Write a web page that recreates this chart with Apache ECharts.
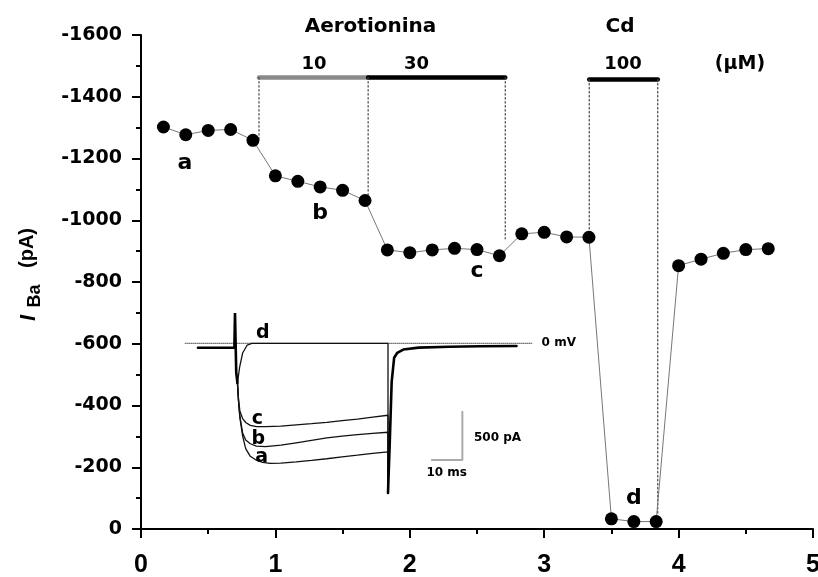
<!DOCTYPE html>
<html><head><meta charset="utf-8">
<script src="https://cdn.jsdelivr.net/npm/echarts@6/dist/echarts.min.js"></script>
<style>html,body{margin:0;padding:0;background:#fff}#c{width:818px;height:577px}</style>
</head><body><div id="c"></div>
<script>
// ---------- main time course ----------
const timeX = [0.167,0.333,0.5,0.667,0.833,1.0,1.167,1.333,1.5,1.667,1.833,2.0,2.167,2.333,
               2.5,2.667,2.833,3.0,3.167,3.333,3.5,3.667,3.833,4.0,4.167,4.333,4.5,4.667];
const currentIBa = [-1302,-1277,-1291,-1294,-1259,-1144,-1126,-1108,-1097,-1064,-904,-895,-904,-909,
                    -905,-885,-956,-961,-946,-945,-33,-24,-24,-853,-874,-893,-905,-908];
const xTicks = {min:0, max:5, step:1};
const yTicks = {min:-1600, max:0, step:200};

// treatment bars: [start, end, level]
const barAero10 = [0.878, 1.69, -1462];
const barAero30 = [1.69, 2.71, -1462];
const barCd100  = [3.335, 3.845, -1456];
// dotted drop lines: [x, from, to]
const dropLines = [[0.878,-1462,-1262],[1.69,-1462,-1072],[2.71,-1462,-940],[3.335,-1456,-968],[3.845,-1456,-50]];
// point labels: [x, y, text]
const pointLabels = [[0.327,-1185,'a'],[1.332,-1023,'b'],[2.5,-836,'c'],[3.668,-100,'d']];

// ---------- inset current traces (time ms, current pA) ----------
const holdTrace = [[-12.1,-46],[-0.2,-46],[0,314],[0.4,-300],[0.8,-411]];
const traceD = [[0.8,-411],[1.5,-250],[2.5,-100],[4,-18],[5.5,0],[50,0],[50,-1549]];
const traceC = [[0.8,-411],[1.2,-600],[1.6,-700],[2.5,-780],[3.5,-820],[5,-850],[7,-862],[10,-862],[15,-858],
                [20,-845],[25,-832],[30,-818],[35,-800],[40,-785],[45,-765],[50,-745],[50,-1549]];
const traceB = [[0.8,-411],[1.2,-620],[1.6,-760],[2.5,-930],[3.5,-1000],[5,-1040],[7,-1065],[10,-1070],[15,-1055],
                [20,-1030],[25,-1005],[30,-980],[35,-960],[40,-945],[45,-932],[50,-921],[50,-1549]];
const traceA = [[0.8,-411],[1.2,-620],[1.6,-770],[2.5,-960],[3.5,-1090],[5,-1170],[7,-1210],[9,-1232],[11.5,-1242],
                [15,-1240],[20,-1228],[25,-1212],[30,-1195],[35,-1175],[40,-1158],[45,-1140],[50,-1125],[50,-1549]];
const tailTrace = [[50,-1549],[50.6,-1000],[51.2,-400],[52,-150],[53,-100],[55,-65],[60,-45],[70,-35],[80,-30],[92,-28]];
const zeroLine = [[-16.3,0],[97,0]];
const scaleBar = {t:64.3, i:-1208, ms:10, pA:500};
const insetLabels = [[9.1,110,'d'],[7.3,-780,'c'],[7.6,-990,'b'],[8.7,-1174,'a']];
const insetTexts = [[100.2,0,'0 mV','left'],[85.8,-980,'500 pA','center'],[69.2,-1337,'10 ms','center']];

const chart = echarts.init(document.getElementById('c'), null, {renderer:'canvas'});
const BOLD = 'bold';
const dj = 'DejaVu Sans';

function seg(data, color, width, type, xi, yi, z) {
  return {type:'line', data:data, xAxisIndex:xi||0, yAxisIndex:yi||0, symbol:'none', silent:true, animation:false,
    lineStyle:{color:color, width:width, type:type||'solid', cap:'round'}, z:z||2, clip:false};
}
function labelSeries(items, size, xi, yi) {
  return {type:'scatter', xAxisIndex:xi||0, yAxisIndex:yi||0, symbolSize:0, silent:true, animation:false, z:5,
    itemStyle:{color:'#000', opacity:1},
    data: items.map(d=>({value:[d[0],d[1]], name:d[2], label:{align:d[3]||'center'}})),
    label:{show:true, position:[0,0], align:'center', verticalAlign:'middle', formatter:p=>p.name, color:'#000',
      opacity:1, textBorderWidth:0, fontFamily:dj, fontWeight:BOLD, fontSize:size}};
}

const series = [];
// inset
series.push(seg(zeroLine, '#555', 1, 'dotted', 1, 1));
series.push(seg(traceA, '#111', 1.3, 'solid', 1, 1));
series.push(seg(traceB, '#111', 1.3, 'solid', 1, 1));
series.push(seg(traceC, '#111', 1.3, 'solid', 1, 1));
series.push(seg(traceD, '#111', 1.3, 'solid', 1, 1));
series.push(seg(holdTrace, '#000', 2.6, 'solid', 1, 1, 3));
series.push(seg(tailTrace, '#000', 2.6, 'solid', 1, 1, 3));
series.push(seg([[scaleBar.t, scaleBar.i],[scaleBar.t+scaleBar.ms, scaleBar.i],[scaleBar.t+scaleBar.ms, scaleBar.i+scaleBar.pA]],
                '#aaa', 2, 'solid', 1, 1));
series.push(labelSeries(insetLabels, 19, 1, 1));
series.push(labelSeries(insetTexts, 12, 1, 1));

// main annotations
series.push(seg([[barAero10[0],barAero10[2]],[barAero10[1],barAero10[2]]], '#8a8a8a', 4.5));
series.push(seg([[barAero30[0],barAero30[2]],[barAero30[1],barAero30[2]]], '#000', 4.5));
series.push(seg([[barCd100[0],barCd100[2]],[barCd100[1],barCd100[2]]], '#000', 4.5));
dropLines.forEach(d => series.push(seg([[d[0],d[1]],[d[0],d[2]]], '#444', 1.2, [1.5,2.5])));
series.push(labelSeries(pointLabels, 22, 0, 0));
// main data
series.push({type:'line', data: timeX.map((x,i)=>[x, currentIBa[i]]), symbol:'circle', symbolSize:13, animation:false, z:10,
  itemStyle:{color:'#000'}, lineStyle:{color:'#777', width:1}});

const axisStyle = {
  axisLine:{show:true, onZero:false, lineStyle:{color:'#000', width:2}},
  axisTick:{show:true, length:9, lineStyle:{color:'#000', width:2}},
  minorTick:{show:true, splitNumber:2, length:5, lineStyle:{color:'#000', width:2}},
  splitLine:{show:false}, minorSplitLine:{show:false}
};

function rotText(x, y, text, font) {
  return {type:'text', x:x, y:y, rotation:Math.PI/2, style:{text:text, x:0, y:0, align:'center', verticalAlign:'middle', font:font, fill:'#000'}};
}
function txt(x, y, text, size) {
  return {type:'text', x:x, y:y, style:{text:text, align:'center', verticalAlign:'middle', font:'bold '+size+'px "DejaVu Sans"', fill:'#000'}};
}

chart.setOption({
  animation:false,
  backgroundColor:'#fff',
  grid:[{left:141, right:5, top:35, bottom:48, containLabel:false, outerBoundsMode:'none'},
        {left:173.8, right:215.8, top:295, bottom:40.5, containLabel:false, outerBoundsMode:'none'}],
  xAxis:[Object.assign({type:'value', gridIndex:0, min:xTicks.min, max:xTicks.max, interval:xTicks.step,
          axisLabel:{color:'#000', fontFamily:'Liberation Sans', fontWeight:BOLD, fontSize:25, margin:24,
                     formatter:v=>String(v)}}, axisStyle),
         {type:'value', gridIndex:1, min:-20, max:120, show:false}],
  yAxis:[Object.assign({type:'value', gridIndex:0, inverse:true, min:yTicks.min, max:yTicks.max, interval:yTicks.step,
          axisLabel:{color:'#000', fontFamily:dj, fontWeight:BOLD, fontSize:19, margin:19,
                     formatter:v=>String(v)}}, axisStyle),
         {type:'value', gridIndex:1, min:-2000, max:500, show:false}],
  graphic:[
    txt(370.5, 27, 'Aerotionina', 20),
    txt(620, 27, 'Cd', 20),
    txt(314, 64, '10', 18),
    txt(416.5, 64, '30', 18),
    txt(623, 64, '100', 18),
    txt(740, 64, '(\u03bcM)', 19),
    rotText(27.5, 248, '(pA)', 'bold 20px "Liberation Sans"'),
    rotText(35, 296, 'Ba', 'bold 18px "Liberation Sans"'),
    rotText(29, 318, 'I', 'italic bold 22px "Liberation Sans"')
  ],
  series: series
});
</script></body></html>
